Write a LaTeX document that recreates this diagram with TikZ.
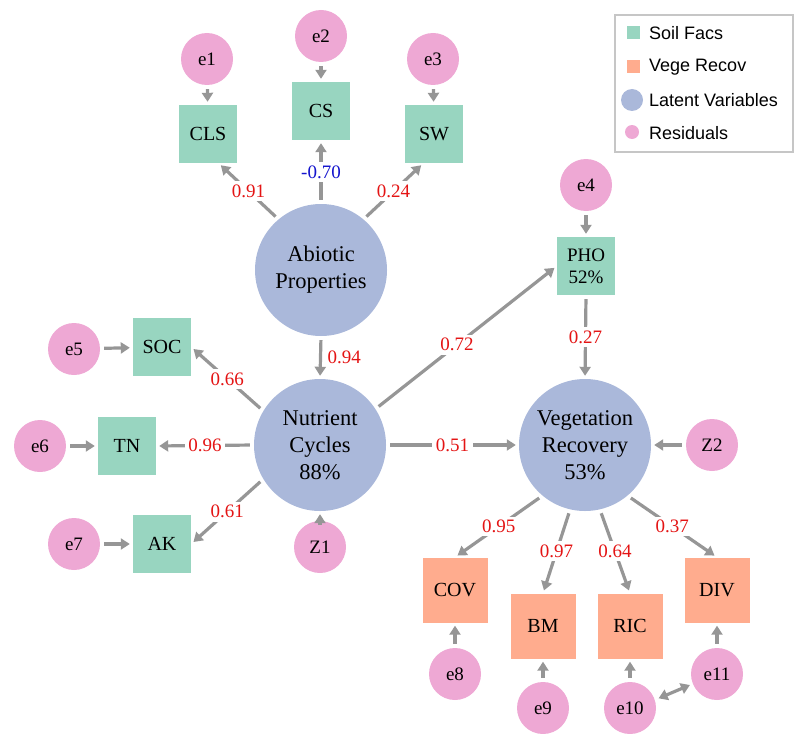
\documentclass[tikz,border=0pt]{standalone}
\usepackage{fontspec}
\setmainfont{Liberation Serif}
\newfontfamily\legfont{Liberation Sans}
\usetikzlibrary{arrows.meta}
\definecolor{soilgreen}{RGB}{152,213,192}
\definecolor{vegesalmon}{RGB}{255,172,142}
\definecolor{latentblue}{RGB}{170,184,218}
\definecolor{resipink}{RGB}{238,168,212}
\definecolor{arrgray}{RGB}{150,150,150}
\definecolor{labred}{RGB}{228,20,20}
\definecolor{labblue}{RGB}{20,20,205}
\tikzset{
  soil/.style={fill=soilgreen, minimum size=58pt, inner sep=0pt, align=center, font=\fontsize{20}{22}\selectfont},
  vege/.style={fill=vegesalmon, minimum size=65pt, inner sep=0pt, font=\fontsize{20}{22}\selectfont},
  latent/.style={circle, fill=latentblue, minimum size=132pt, inner sep=0pt, align=center, font=\fontsize{22.5}{27}\selectfont},
  resid/.style={circle, fill=resipink, minimum size=52pt, inner sep=0pt, font=\fontsize{19}{22}\selectfont},
  link/.style={draw=arrgray, line width=3.2pt, -{Triangle[length=9pt,width=11pt]}, shorten >=3pt, shorten <=4pt},
  coef/.style={fill=white, text=labred, inner sep=3.5pt, font=\fontsize{19}{22}\selectfont},
  legtext/.style={anchor=west, inner sep=0pt, font=\legfont\fontsize{18}{20}\selectfont}
}

\begin{document}
\begin{tikzpicture}[x=1pt,y=-1pt]
\useasboundingbox (0,0) rectangle (794,733);

%Latent variables
\node [latent] (abiotic) at (321,270) {Abiotic\\Properties};
\node [latent] (nutrient) at (320,445) {Nutrient\\Cycles\\88\%};
\node [latent] (vegetation) at (585,445) {Vegetation\\Recovery\\53\%};

%Soil factors
\node [soil] (cls) at (208,134) {CLS};
\node [soil] (cs) at (321,111) {CS};
\node [soil] (sw) at (434,134) {SW};
\node [soil, font=\fontsize{19}{22}\selectfont] (pho) at (586,266) {PHO\\52\%};
\node [soil] (soc) at (162,347) {SOC};
\node [soil] (tn) at (127,446) {TN};
\node [soil] (ak) at (162,544) {AK};

%Vegetation recovery
\node [vege] (cov) at (455,590) {COV};
\node [vege] (bm) at (543,626) {BM};
\node [vege] (ric) at (630,626) {RIC};
\node [vege] (div) at (717,590) {DIV};

%Residuals
\node [resid] (e1) at (207,59) {e1};
\node [resid] (e2) at (321,36) {e2};
\node [resid] (e3) at (433,59) {e3};
\node [resid] (e4) at (586,185) {e4};
\node [resid] (e5) at (74,349) {e5};
\node [resid] (e6) at (40,446) {e6};
\node [resid] (e7) at (74,544) {e7};
\node [resid] (z1) at (320,547) {Z1};
\node [resid] (z2) at (712,445) {Z2};
\node [resid] (e8) at (455,674) {e8};
\node [resid] (e9) at (543,708) {e9};
\node [resid] (e10) at (630,708) {e10};
\node [resid] (e11) at (717,674) {e11};

%Residual arrows
\draw [link] (e1) -- (cls);
\draw [link] (e2) -- (cs);
\draw [link] (e3) -- (sw);
\draw [link] (e4) -- (pho);
\draw [link] (e5) -- (soc);
\draw [link] (e6) -- (tn);
\draw [link] (e7) -- (ak);
\draw [link] (z1) -- (nutrient);
\draw [link] (z2) -- (vegetation);
\draw [link] (e8) -- (cov);
\draw [link] (e9) -- (bm);
\draw [link] (e10) -- (ric);
\draw [link] (e11) -- (div);
\draw [link, {Triangle[length=9pt,width=11pt]}-{Triangle[length=9pt,width=11pt]}] (e10.18) -- (e11.202);

%Paths with coefficients
\draw [link] (abiotic.130) -- node [coef] {0.91} (cls.-70);
\draw [link] (abiotic.north) -- node [coef, text=labblue] {-0.70} (cs.south);
\draw [link] (abiotic.50) -- node [coef] {0.24} (sw.-110);
\draw [link] (abiotic.south) -- node [coef, fill=none, right, xshift=2pt] {0.94} (nutrient.north);
\draw [link] (nutrient.149) -- node [coef] {0.66} (soc.east);
\draw [link] (nutrient.west) -- node [coef] {0.96} (tn.east);
\draw [link] (nutrient.211) -- node [coef] {0.61} (ak.east);
\draw [link] (nutrient.33) -- node [coef, pos=0.45] {0.72} (pho.west);
\draw [link] (nutrient.east) -- node [coef] {0.51} (vegetation.west);
\draw [link] (pho.south) -- node [coef] {0.27} (vegetation.north);
\draw [link] (vegetation.-130) -- node [coef] {0.95} (cov.north);
\draw [link] (vegetation.-103) -- node [coef] {0.97} (bm.north);
\draw [link] (vegetation.-77) -- node [coef] {0.64} (ric.north);
\draw [link] (vegetation.-50) -- node [coef] {0.37} (div.north);

%Legend
\draw [draw=gray!45, line width=1.5pt] (615,15) rectangle (793,152);
\node [fill=soilgreen, minimum size=13pt, inner sep=0pt] (keysoil) at (633,33) {};
\node [fill=vegesalmon, minimum size=13pt, inner sep=0pt] (keyvege) at (633,67) {};
\node [circle, fill=latentblue, minimum size=22pt, inner sep=0pt] (keylatent) at (632,100) {};
\node [circle, fill=resipink, minimum size=14pt, inner sep=0pt] (keyresid) at (632,132) {};
\node [legtext] (legsoil) at (649,33) {Soil Facs};
\node [legtext] (legvege) at (649,67) {Vege Recov};
\node [legtext] (leglatent) at (649,100) {Latent Variables};
\node [legtext] (legresid) at (649,133) {Residuals};

\end{tikzpicture}
\end{document}
